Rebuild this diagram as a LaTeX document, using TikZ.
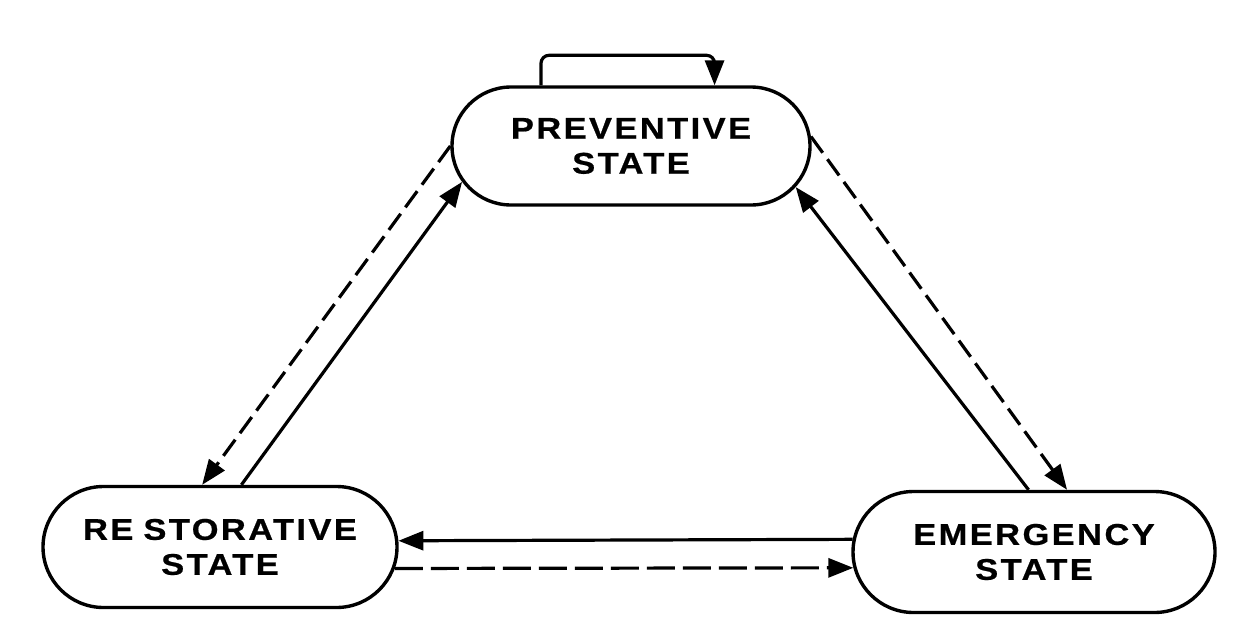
\documentclass[tikz,border=0pt]{standalone}
\usepackage{fontspec}
\setmainfont{Liberation Sans}
\newfontfamily\letfont{Liberation Sans}[LetterSpace=8,FakeStretch=1.15,FakeBold=0.6]
\usetikzlibrary{arrows.meta,shapes.misc}
\begin{document}
\begin{tikzpicture}[x=1pt,y=1pt,
  state/.style={rounded rectangle, draw, line width=3.4pt, minimum width=358pt, minimum height=118pt, inner sep=0pt},
  lbl/.style={font=\letfont\bfseries\fontsize{30}{35}\selectfont, align=center, inner sep=0pt},
  conn/.style={line width=3.2pt, -{Triangle[length=25pt,width=19pt]}},
  dashconn/.style={conn, dash pattern=on 20pt off 8pt},
  longdash/.style={conn, dash pattern=on 28pt off 8pt},
]
\useasboundingbox (0,0) rectangle (1244,-634);
% states
\node[state] (P) at (631,-146) {};
\node[state, minimum width=354pt, minimum height=121pt] (R) at (220,-547) {};
\node[state, minimum width=362pt, minimum height=121pt] (E) at (1034,-552) {};
\node[lbl] (Pt) at (P) {PREVENTIVE\\STATE};
\node[lbl] (Rt) at (R) {RE\hspace{10pt}STORATIVE\\STATE};
\node[lbl] (Et) at (E) {EMERGENCY\\STATE};
% self loop
\draw[conn, rounded corners=8pt] (P.146) -- ++(0,30) -| (P.36);
% left pair
\draw[dashconn] (P.180) -- (R.106.7);
\draw[conn] (R.71.6) -- (P.192.4);
% right pair
\draw[dashconn] (P.3) -- (E.62);
\draw[conn] (E.95.5) -- (P.346.5);
% bottom pair
\draw[conn] (E.176) -- (R.2.9);
\draw[longdash] (R.353.5) -- (E.185.5);
\end{tikzpicture}
\end{document}
